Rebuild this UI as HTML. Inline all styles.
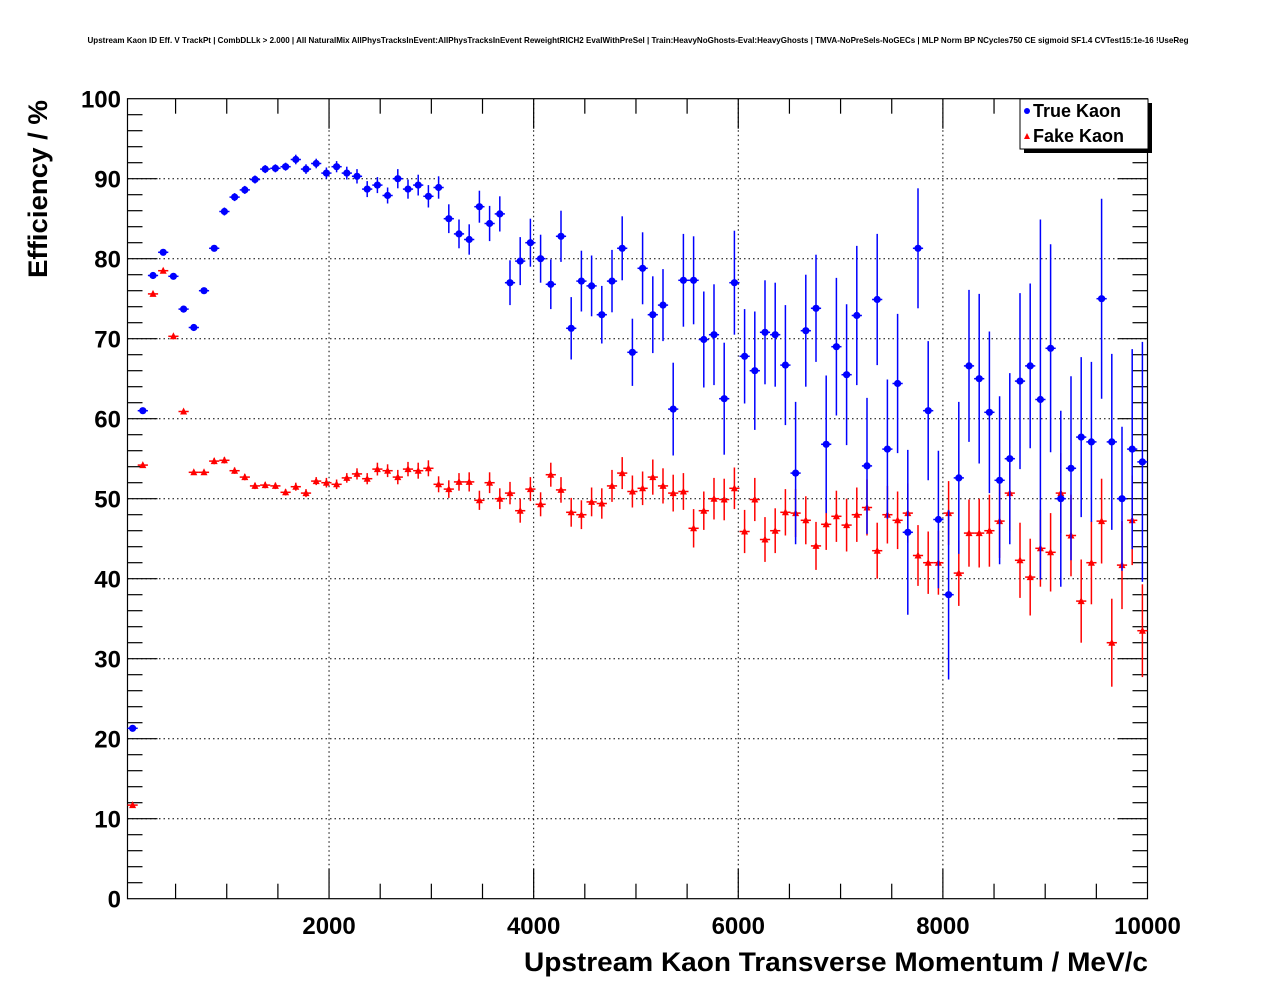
<!DOCTYPE html>
<html><head><meta charset="utf-8"><style>
html,body{margin:0;padding:0;background:#fff;}
body{width:1276px;height:996px;overflow:hidden;font-family:"Liberation Sans",sans-serif;}
</style></head><body>
<svg id="chart" width="1276" height="996" xmlns="http://www.w3.org/2000/svg" font-family="Liberation Sans, sans-serif">
<text x="638" y="43" font-size="8.2" font-weight="bold" text-anchor="middle" textLength="1101" lengthAdjust="spacingAndGlyphs">Upstream Kaon ID Eff. V TrackPt | CombDLLk &gt; 2.000 | All NaturalMix AllPhysTracksInEvent:AllPhysTracksInEvent ReweightRICH2 EvalWithPreSel | Train:HeavyNoGhosts-Eval:HeavyGhosts | TMVA-NoPreSels-NoGECs | MLP Norm BP NCycles750 CE sigmoid SF1.4 CVTest15:1e-16 !UseReg</text>
<g id="grid"></g>
<g id="axes"></g>
<g id="series"></g>
<text x="1148" y="971" font-size="27" font-weight="bold" text-anchor="end" textLength="624" lengthAdjust="spacingAndGlyphs">Upstream Kaon Transverse Momentum / MeV/c</text>
<text transform="translate(47,100) rotate(-90)" font-size="27" font-weight="bold" text-anchor="end" textLength="178" lengthAdjust="spacingAndGlyphs">Efficiency / %</text>
<g>
<rect x="1024" y="103" width="128" height="50" fill="#000"/>
<rect x="1020" y="99" width="128" height="50" fill="#fff" stroke="#000" stroke-width="1"/>
<circle cx="1027" cy="111" r="3" fill="#0000ff"/>
<text x="1033" y="117" font-size="18" font-weight="bold">True Kaon</text>
<path d="M1024,139 L1027,133 L1030,139 Z" fill="#ff0000"/>
<text x="1033" y="142" font-size="18" font-weight="bold">Fake Kaon</text>
</g>
</svg>
<script>
const trueEff = [21.3,61.0,77.9,80.8,77.8,73.7,71.4,76.0,81.3,85.9,87.7,88.6,89.9,91.2,91.3,91.5,92.4,91.2,91.9,90.7,91.5,90.7,90.3,88.7,89.2,87.9,90.0,88.7,89.2,87.8,88.9,85.0,83.1,82.4,86.5,84.4,85.6,77.0,79.7,82.0,80.0,76.8,82.8,71.3,77.2,76.6,73.0,77.2,81.3,68.3,78.8,73.0,74.2,61.2,77.3,77.3,69.9,70.5,62.5,77.0,67.8,66.0,70.8,70.5,66.7,53.2,71.0,73.8,56.8,69.0,65.5,72.9,54.1,74.9,56.2,64.4,45.8,81.3,61.0,47.4,38.0,52.6,66.6,65.0,60.8,52.3,55.0,64.7,66.6,62.4,68.8,50.0,53.8,57.7,57.1,75.0,57.1,50.0,56.2,54.6];
const trueErr = [0.3,0.4,0.4,0.4,0.4,0.4,0.4,0.4,0.4,0.5,0.5,0.5,0.5,0.5,0.5,0.5,0.6,0.6,0.6,0.7,0.7,0.8,0.9,1.0,1.0,1.0,1.2,1.2,1.3,1.4,1.4,1.8,1.8,1.9,2.0,2.2,2.2,2.8,3.0,3.0,3.0,3.1,3.2,3.9,3.8,3.8,3.6,3.9,4.0,4.2,4.5,4.8,4.5,5.8,5.8,5.5,6.0,6.3,7.0,6.5,5.9,7.4,6.5,6.5,7.5,8.9,7.0,6.7,8.6,8.6,8.8,8.7,8.5,8.2,8.7,8.7,10.3,7.5,8.7,8.6,10.6,9.5,9.5,10.6,10.1,10.5,10.7,11.0,10.3,22.5,13.0,11.0,11.5,10.0,10.0,12.5,11.0,9.0,12.5,15.0];
const fakeEff = [11.7,54.2,75.6,78.5,70.3,60.9,53.3,53.3,54.7,54.8,53.5,52.7,51.6,51.7,51.6,50.8,51.5,50.7,52.2,52.0,51.8,52.6,53.1,52.5,53.7,53.5,52.7,53.7,53.5,53.8,51.8,51.2,52.1,52.1,49.8,52.0,50.0,50.7,48.5,51.2,49.3,53.0,51.1,48.3,48.0,49.6,49.4,51.6,53.2,50.9,51.3,52.7,51.6,50.7,50.9,46.3,48.5,50.0,49.9,51.3,45.9,49.9,44.9,46.0,48.3,48.2,47.3,44.1,46.8,47.8,46.7,48.0,48.9,43.5,48.0,47.3,48.2,42.9,42.0,42.0,48.2,40.7,45.7,45.7,46.0,47.2,50.7,42.3,40.2,43.8,43.3,50.7,45.4,37.2,42.0,47.2,32.0,41.7,47.3,33.5];
const fakeErr = [0.2,0.3,0.3,0.3,0.3,0.3,0.3,0.3,0.4,0.4,0.4,0.4,0.4,0.4,0.4,0.4,0.5,0.5,0.5,0.6,0.6,0.6,0.7,0.7,0.8,0.8,0.9,0.9,1.0,1.0,1.0,1.1,1.1,1.2,1.2,1.3,1.3,1.4,1.5,1.5,1.5,1.5,1.6,1.8,1.8,1.8,1.9,2.0,2.0,2.0,2.1,2.2,2.2,2.3,2.3,2.4,2.4,2.6,2.6,2.6,2.7,2.7,2.8,2.8,2.9,3.0,3.0,3.0,3.2,3.2,3.3,3.4,3.5,3.5,3.6,3.6,3.7,3.8,3.9,4.0,4.0,4.1,4.2,4.3,4.5,4.6,4.7,4.7,4.8,4.8,4.9,5.0,5.1,5.2,5.2,5.3,5.5,5.5,5.6,5.8];
const xTickLabels = ["2000","4000","6000","8000","10000"];
const xTickValues = [2000,4000,6000,8000,10000];
const yTickValues = [0,10,20,30,40,50,60,70,80,90,100];

const NS="http://www.w3.org/2000/svg";
const L=127.5,R=1147.5,T=98.7,B=898.7;
const X0=30,X1=10000,binW=(X1-X0)/100;
function sx(v){return L+(v-X0)/(X1-X0)*(R-L);}
function sy(v){return B-(v/100)*(B-T);}
function mk(tag,attrs,parent){const e=document.createElementNS(NS,tag);for(const k in attrs)e.setAttribute(k,attrs[k]);parent.appendChild(e);return e;}
const grid=document.getElementById('grid'),axes=document.getElementById('axes'),series=document.getElementById('series');

xTickValues.forEach(v=>{ if(v<X1){const g=mk('line',{x1:sx(v),x2:sx(v),y1:T,y2:B,stroke:'#000','stroke-width':1,'stroke-dasharray':'1.5,3'},grid);

}});
yTickValues.forEach(v=>{ if(v>0&&v<100){const g=mk('line',{x1:L,x2:R,y1:sy(v),y2:sy(v),stroke:'#000','stroke-width':1,'stroke-dasharray':'1.5,3'},grid);

}});

const frame=mk('rect',{x:L,y:T,width:R-L,height:B-T,fill:'none',stroke:'#000','stroke-width':1.2},axes);


for(let v=500;v<X1;v+=500){const len=(v%2000===0)?30:15;
mk('line',{x1:sx(v),x2:sx(v),y1:B,y2:B-len,stroke:'#000','stroke-width':1.2},axes);
mk('line',{x1:sx(v),x2:sx(v),y1:T,y2:T+len,stroke:'#000','stroke-width':1.2},axes);}
for(let v=2;v<100;v+=2){const len=(v%10===0)?30:15;
mk('line',{x1:L,x2:L+len,y1:sy(v),y2:sy(v),stroke:'#000','stroke-width':1.2},axes);
mk('line',{x1:R,x2:R-len,y1:sy(v),y2:sy(v),stroke:'#000','stroke-width':1.2},axes);}
xTickValues.forEach((v,i)=>{const t=mk('text',{x:sx(v),y:934,'font-size':24,'font-weight':'bold','text-anchor':'middle'},axes);t.textContent=xTickLabels[i];

});
yTickValues.forEach(v=>{const t=mk('text',{x:121,y:sy(v)+9,'font-size':24,'font-weight':'bold','text-anchor':'end'},axes);t.textContent=String(v);

});

function drawSeries(vals,errs,color,shape,name){
 const g=mk('g',{},series);
 
 
 vals.forEach((v,i)=>{
  const cx=sx(X0+(i+0.5)*binW),cy=sy(v);
  mk('line',{x1:sx(X0+i*binW),x2:sx(X0+(i+1)*binW),y1:cy,y2:cy,stroke:color,'stroke-width':1.5},g);
  mk('line',{x1:cx,x2:cx,y1:sy(v+errs[i]),y2:sy(Math.max(0,v-errs[i])),stroke:color,'stroke-width':1.5},g);
  let m;
  if(shape==='circle'){m=mk('circle',{cx:cx,cy:cy,r:3.6,fill:color},g);}
  else{m=mk('path',{d:`M${cx-3.5},${cy+3} L${cx},${cy-4} L${cx+3.5},${cy+3} Z`,fill:color},g);}
  
  
 });
}
drawSeries(fakeEff,fakeErr,'#ff0000','tri','fake-kaon-series');
drawSeries(trueEff,trueErr,'#0000ff','circle','true-kaon-series');
</script>
</body></html>
